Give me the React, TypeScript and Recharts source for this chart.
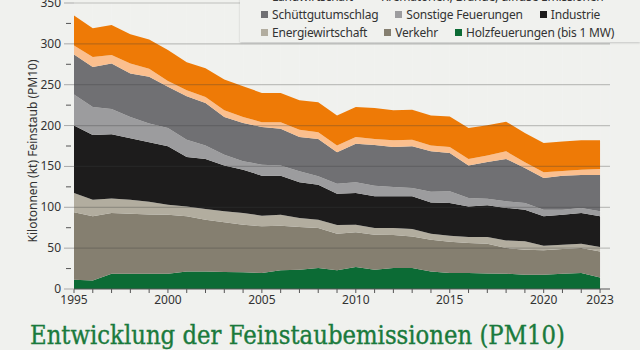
import React from 'react';
import { AreaChart, Area, XAxis, YAxis, CartesianGrid, ReferenceLine } from 'recharts';

const years = [
  1995, 1996, 1997, 1998, 1999, 2000, 2001, 2002, 2003, 2004, 2005, 2006, 2007, 2008, 2009,
  2010, 2011, 2012, 2013, 2014, 2015, 2016, 2017, 2018, 2019, 2020, 2021, 2022, 2023,
];

// kt PM10 per source, bottom of the stack first
const holz = [
  11.4, 10.5, 18.7, 18.7, 18.7, 18.7, 21.5, 21.5, 20.8, 20.4, 19.6, 22.8, 23.6, 25.7, 22.8,
  26.9, 23.6, 25.7, 25.7, 21.5, 19.6, 19.6, 19, 18.7, 17.5, 17.5, 18.7, 19.6, 14,
];
const verkehr = [
  82.4, 78.4, 74.3, 73.5, 72.6, 72.3, 67.4, 63.4, 60.8, 58.3, 57.1, 54.7, 52.4, 49, 44.9,
  42.4, 42.9, 40.4, 38.7, 38.9, 38.3, 36.7, 36.5, 31.5, 30.6, 29.8, 30.3, 30.6, 32,
];
const energie = [
  23.7, 20.4, 17.6, 17.1, 15.6, 12.2, 12.2, 13.1, 13.4, 14.3, 13, 13.5, 11, 10.2, 10.7,
  9.4, 8.2, 8.6, 9.1, 7.3, 7.4, 7.4, 8, 9.3, 10.2, 5.7, 5.2, 5.3, 5.4,
];
const industrie = [
  82.5, 79.2, 78.7, 75.1, 72.6, 71.4, 60.5, 61.2, 56, 53, 49, 47.7, 43.5, 42.8, 38.3,
  38.8, 38.7, 38.7, 39.9, 38.3, 40, 37.4, 39, 39.7, 38.8, 35.9, 36.8, 37.5, 37.5,
];
const sonstige = [
  38, 34.3, 31.1, 26.2, 22.9, 22.4, 21.2, 16.3, 13.4, 10.2, 13.5, 12.3, 13.5, 10.2, 12.2,
  13, 13.1, 11.5, 10.3, 13, 14.2, 10.3, 8, 8.1, 8.2, 8.2, 6.1, 6.2, 6.1,
];
const schuett = [
  49, 49, 55.5, 53, 57.2, 50.5, 53, 52.2, 46.2, 47.1, 46.1, 45, 42, 45.8, 38.4,
  47.4, 49.8, 49, 50.9, 49.5, 47, 39.6, 45, 51.9, 42.9, 38.8, 41.6, 40.4, 44.6,
];
const krema = [
  11, 12.2, 10.6, 12.3, 9.8, 7.1, 7.4, 7.3, 8.1, 7.3, 5.7, 8, 9, 8.1, 8.2,
  8.1, 7.4, 8.1, 8.2, 7, 7.4, 8.2, 8, 9.3, 6.8, 6.9, 5.8, 6.4, 7.3,
];
const landw = [
  36.6, 35, 36.7, 35.8, 35.9, 38, 34.3, 35.2, 37.6, 37.4, 36, 36, 36, 36.7, 36.7,
  36.8, 37.9, 36.7, 36.7, 36.7, 37.1, 37.9, 37, 36.3, 36, 36, 35.9, 36, 35.1,
];

const SERIES = [
  { key: 'holz', name: 'Holzfeuerungen (bis 1 MW)', color: '#0c6b35', values: holz },
  { key: 'verkehr', name: 'Verkehr', color: '#857f70', values: verkehr },
  { key: 'energie', name: 'Energiewirtschaft', color: '#b2ad9f', values: energie },
  { key: 'industrie', name: 'Industrie', color: '#1d1c1c', values: industrie },
  { key: 'sonstige', name: 'Sonstige Feuerungen', color: '#9c9c9e', values: sonstige },
  { key: 'schuett', name: 'Schüttgutumschlag', color: '#707073', values: schuett },
  { key: 'krema', name: 'Krematorien, Brände, diffuse Emissionen', color: '#fbbf8e', values: krema },
  { key: 'landw', name: 'Landwirtschaft', color: '#ee7a06', values: landw },
];

const LEGEND_ROWS = [
  ['landw', 'krema'],
  ['schuett', 'sonstige', 'industrie'],
  ['energie', 'verkehr', 'holz'],
];

const Y_TICKS = [0, 25, 50, 75, 100, 125, 150, 175, 200, 225, 250, 275, 300, 325, 350];
const Y_GRID = [50, 100, 150, 200, 250, 300, 350];
const X_LABELS = [1995, 2000, 2005, 2010, 2015, 2020, 2023];

const BG = '#f0f1ee';
const FONT = '"Noto Sans", sans-serif';

const data = years.map((year, i) => {
  const row: Record<string, number> = { year };
  SERIES.forEach((s) => {
    row[s.key] = s.values[i];
  });
  return row;
});

function YTick({ x, y, payload }: any) {
  const major = payload.value % 50 === 0;
  return (
    <g>
      {major ? (
        <line x1={x - 10} x2={x} y1={y} y2={y} stroke="#a9a9a9" />
      ) : (
        <line x1={x - 8} x2={x - 3} y1={y} y2={y} stroke="#555" />
      )}
      {major && (
        <text x={x - 13} y={y} dy={4} textAnchor="end" fontSize={12} fill="#333" fontFamily={FONT}>
          {payload.value}
        </text>
      )}
    </g>
  );
}

function ChartLegend() {
  const byKey = Object.fromEntries(SERIES.map((s) => [s.key, s]));
  return (
    <div
      style={{
        position: 'absolute',
        left: 240,
        top: -13,
        width: 400,
        height: 55,
        background: BG,
        boxShadow: '0 1px 2px rgba(0,0,0,0.18)',
        fontFamily: FONT,
        fontSize: 12,
        color: '#333',
      }}
    >
      {LEGEND_ROWS.map((row, r) => (
        <div key={r} style={{ display: 'flex', height: 18, alignItems: 'center', paddingLeft: 21 }}>
          {row.map((k) => (
            <div key={k} style={{ display: 'flex', alignItems: 'center', marginRight: 17 }}>
              <span
                style={{ width: 7, height: 7, background: byKey[k].color, marginRight: 4, display: 'inline-block' }}
              />
              <span style={{ whiteSpace: 'nowrap', letterSpacing: -0.2 }}>{byKey[k].name}</span>
            </div>
          ))}
        </div>
      ))}
    </div>
  );
}

export default function App() {
  return (
    <div
      style={{
        position: 'absolute',
        left: 0,
        top: 0,
        width: 640,
        height: 350,
        background: BG,
        overflow: 'hidden',
        fontFamily: FONT,
      }}
    >
      <AreaChart width={640} height={310} data={data} margin={{ top: 3, right: 30, bottom: 1, left: 0 }}>
        {SERIES.map((s) => (
          <Area
            key={s.key}
            dataKey={s.key}
            name={s.name}
            stackId="1"
            type="linear"
            stroke="none"
            fill={s.color}
            fillOpacity={1}
            isAnimationActive={false}
          />
        ))}
        <CartesianGrid horizontal={false} stroke="#ffffff" strokeOpacity={0.12} />
        {Y_GRID.map((v) => (
          <ReferenceLine key={v} y={v} stroke="#3c3c3c" strokeOpacity={0.28} strokeWidth={1.2} />
        ))}
        <XAxis
          dataKey="year"
          type="number"
          domain={[1995, 2023.53]}
          ticks={years}
          interval={0}
          height={20}
          tickSize={4}
          tickMargin={2}
          stroke="#555"
          tick={{ fontSize: 12, fill: '#333', fontFamily: FONT }}
          tickFormatter={(v: number) => (X_LABELS.includes(v) ? String(v) : '')}
        />
        <YAxis
          type="number"
          domain={[0, 350]}
          ticks={Y_TICKS}
          interval={0}
          width={74}
          axisLine={false}
          tickLine={false}
          tickSize={0}
          tickMargin={0}
          tick={<YTick />}
        />
      </AreaChart>
      <div
        style={{
          position: 'absolute',
          left: 32,
          top: 151,
          transform: 'translate(-50%, -50%) rotate(-90deg)',
          fontSize: 12,
          color: '#333',
          whiteSpace: 'nowrap',
        }}
      >
        Kilotonnen (kt) Feinstaub (PM10)
      </div>
      <ChartLegend />
      <svg width={640} height={40} style={{ position: 'absolute', left: 0, top: 310 }}>
        <text
          x={30}
          y={34}
          fontFamily='"DejaVu Serif", serif'
          fontSize={26}
          fill="#1a7a3c"
          stroke="#1a7a3c"
          strokeWidth={0.4}
          textLength={535}
          lengthAdjust="spacingAndGlyphs"
        >
          Entwicklung der Feinstaubemissionen (PM10)
        </text>
      </svg>
    </div>
  );
}
